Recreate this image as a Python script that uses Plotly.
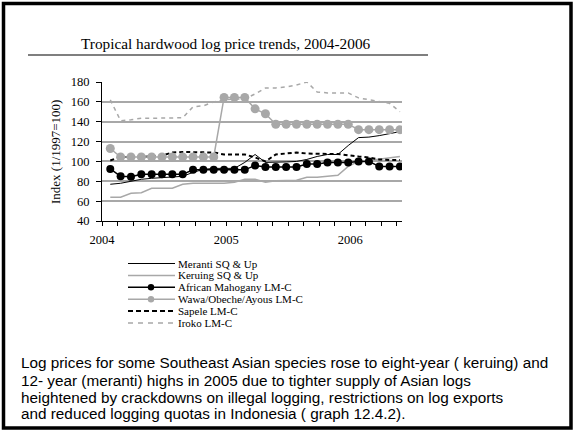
import plotly.graph_objects as go
import pandas as pd

# ---------------- data ----------------
months = [p.strftime("%Y-%m") for p in pd.period_range("2004-01", "2006-05", freq="M")]
year_labels = ["2004", "2005", "2006"]

meranti = [77, 78, 80, 82, 83, 83.5, 84, 85, 89, 92, 93, 93, 93, 99, 107, 99, 99, 99.5,
           100, 102, 105, 107, 107, 116, 124, 124.5, 126, 128, 130]
keruing = [64, 64, 68, 68.5, 73, 73, 73, 77, 78, 78, 78, 78, 79, 82, 82, 79, 80.5, 81,
           81, 84, 84, 85, 86, 95, 100, 101, 102.5, 104, 105]
mahogany = [92.5, 85, 84.5, 87, 87, 87, 87, 87, 91.5, 91.5, 91.5, 91.5, 91.5, 91.5, 96,
            94.5, 94.5, 94.5, 94.5, 97.5, 97.5, 99, 99, 99, 100, 100, 95, 95, 95]
wawa = [113, 104.5, 104.5, 104.5, 104.5, 104.5, 104.5, 104.5, 104.5, 104.5, 104.5,
        164.5, 164.5, 164.5, 153, 148, 137.5, 137.5, 137.5, 137.5, 137.5, 137.5, 137.5,
        137.5, 132, 132, 132, 132, 132]
sapele = [101, 104.5, 104.5, 104.5, 105, 106, 109, 109.5, 109.5, 109.5, 109, 107, 107,
          107, 104, 100, 107, 108, 109, 108, 107.5, 107.5, 107.5, 106, 105, 104, 102,
          101.5, 101.5]
iroko = [162, 141, 142, 143.5, 143.5, 143.5, 143.5, 144, 155, 156, 160, 162, 163, 163,
         168, 174, 174, 175, 177, 180, 170, 169, 169, 169, 164, 162, 160, 158.5, 150]

series_names = ["Meranti SQ & Up", "Keruing SQ & Up", "African Mahogany LM-C",
                "Wawa/Obeche/Ayous LM-C", "Sapele LM-C", "Iroko LM-C"]

title_text = "Tropical hardwood log price trends, 2004-2006"
ytitle_text = "Index (1/1997=100)"
caption_lines = [
    "Log prices for some Southeast Asian species rose to eight-year ( keruing) and",
    "12- year (meranti) highs in 2005 due to tighter supply of Asian logs",
    "heightened by crackdowns on illegal logging, restrictions on log exports",
    "and reduced logging quotas in Indonesia ( graph 12.4.2).",
]

# ---------------- layout geometry ----------------
W, H = 573, 432
L, R, T, B = 102, 402, 82, 221
GRAY = "#a8a8a8"
SERIF = "Liberation Serif, DejaVu Serif, serif"
SANS = "Liberation Sans, Arial, sans-serif"


def px(x):
    return (x - L) / (R - L)


def py(y):
    return (B - y) / (B - T)


x = list(range(len(months)))
x0 = -0.8
x1 = len(months) - 1 + 0.2

styles = [
    dict(line=dict(color="black", width=1), mode="lines"),
    dict(line=dict(color=GRAY, width=1.5), mode="lines"),
    dict(line=dict(color="black", width=1.5), mode="lines+markers",
         marker=dict(color="black", size=8)),
    dict(line=dict(color=GRAY, width=1.5), mode="lines+markers",
         marker=dict(color=GRAY, size=9)),
    dict(line=dict(color="black", width=2, dash="4px,3px"), mode="lines"),
    dict(line=dict(color=GRAY, width=1.5, dash="4px,4px"), mode="lines"),
]
legend_line_styles = [
    dict(color="black", width=1),
    dict(color=GRAY, width=1.5),
    dict(color="black", width=1.5),
    dict(color=GRAY, width=1.5),
    dict(color="black", width=2, dash="5px,3px"),
    dict(color=GRAY, width=1.3, dash="5px,5px"),
]
values = [meranti, keruing, mahogany, wawa, sapele, iroko]

fig = go.Figure()
order = [1, 5, 0, 4, 3, 2]
for k in order:
    fig.add_trace(go.Scatter(x=x, y=values[k], name=series_names[k], showlegend=False,
                             hoverinfo="skip", **styles[k]))

shapes = []
annotations = []

shapes.append(dict(type="line", xref="paper", yref="y", x0=0, x1=1, y0=160, y1=160,
                   line=dict(color="black", width=1.2), layer="between"))
shapes.append(dict(type="line", xref="paper", yref="y", x0=0, x1=px(153), y0=60, y1=60,
                   line=dict(color="black", width=1.2), layer="between"))

shapes.append(dict(type="rect", xref="paper", yref="paper", x0=px(3.5), x1=px(571),
                   y0=py(3.5), y1=py(428), line=dict(color="black", width=3.5)))
shapes.append(dict(type="line", xref="paper", yref="paper", x0=px(28), x1=px(428),
                   y0=py(55), y1=py(55), line=dict(color="black", width=1.2)))

annotations.append(dict(text=title_text, xref="paper", yref="paper", x=px(226), y=py(43.5),
                        xanchor="center", yanchor="middle", showarrow=False,
                        font=dict(family=SERIF, size=15.3, color="black")))
annotations.append(dict(text=ytitle_text, xref="paper", yref="paper", x=px(55), y=py(152),
                        xanchor="center", yanchor="middle", textangle=-90, showarrow=False,
                        font=dict(family=SERIF, size=13, color="black")))

leg_y0, leg_dy = 263.5, 11.9
for k, name in enumerate(series_names):
    yy = py(leg_y0 + leg_dy * k)
    st = styles[k]
    shapes.append(dict(type="line", xref="paper", yref="paper", x0=px(128), x1=px(175),
                       y0=yy, y1=yy, line=legend_line_styles[k]))
    if "marker" in st:
        r = 3.2
        shapes.append(dict(type="circle", xref="paper", yref="paper",
                           xsizemode="pixel", ysizemode="pixel",
                           xanchor=px(151), yanchor=yy, x0=-r, x1=r, y0=-r, y1=r,
                           fillcolor=st["marker"]["color"], line=dict(width=0)))
    annotations.append(dict(text=name, xref="paper", yref="paper", x=px(175.5), y=yy,
                            xanchor="left", yanchor="middle", showarrow=False,
                            font=dict(family=SERIF, size=11, color="black")))

cap_y = [362, 380, 397, 413]
for line, yy in zip(caption_lines, cap_y):
    annotations.append(dict(text=line, xref="paper", yref="paper", x=px(19), y=py(yy),
                            xanchor="left", yanchor="middle", showarrow=False,
                            font=dict(family=SANS, size=15.3, color="black")))

fig.update_layout(
    width=W, height=H,
    margin=dict(l=L, r=W - R, t=T, b=H - B, pad=0),
    paper_bgcolor="white", plot_bgcolor="white",
    showlegend=False,
    shapes=shapes, annotations=annotations,
    xaxis=dict(range=[x0, x1], tickmode="array",
               tickvals=[x0 + 12 * i for i in range(len(year_labels))],
               ticktext=year_labels, ticks="outside", ticklen=4, tickcolor="black",
               showline=True, linecolor="black", linewidth=1, showgrid=False,
               zeroline=False, tickfont=dict(family=SERIF, size=12.5, color="black"),
               ticklabelstandoff=3,
               minor=dict(tickmode="linear", tick0=x0, dtick=1.5, ticks="outside",
                          ticklen=4, tickcolor="black", showgrid=False)),
    yaxis=dict(range=[40, 180], tickmode="linear", tick0=40, dtick=20, ticks="outside",
               ticklen=5, tickcolor="black", showline=True, linecolor="black",
               linewidth=1, showgrid=True, gridcolor=GRAY, gridwidth=1.5,
               zeroline=False, tickfont=dict(family=SERIF, size=12.5, color="black"),
               ticklabelstandoff=4),
)

fig.write_html("out.html", config={"displayModeBar": False},
               post_script="document.body.style.margin='0';document.body.style.overflow='hidden';")
